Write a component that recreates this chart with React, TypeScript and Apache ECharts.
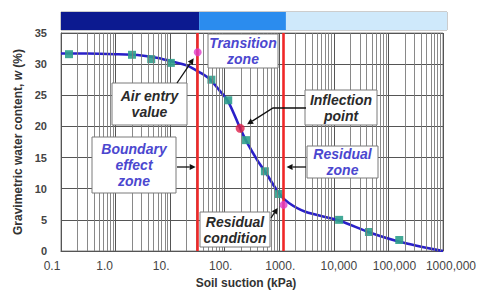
import React, { useEffect, useRef } from "react";
import * as echarts from "echarts";

// ---- axis ticks ----
const xTickValues = [0.1, 1, 10, 100, 1000, 10000, 100000, 1000000];
const xTickLabels = ["0.1", "1.0", "10.", "100.", "1000.", "10,000", "100,000", "1000,000"];
const minorMultipliers = [2, 3, 4, 5, 6, 7, 8, 9];

// ---- soil-water characteristic curve (best fit) ----
const curveSuction = [0.1, 0.3, 1, 3, 6, 10, 20, 30, 50, 80, 116, 192, 250, 400, 545, 1000, 1500, 3000, 12500, 44000, 158000, 1000000];
const curveWater = [31.7, 31.7, 31.6, 31.4, 31.0, 30.5, 29.8, 29.0, 27.8, 25.8, 24.0, 19.7, 17.6, 14.5, 12.8, 9.2, 7.7, 6.3, 4.9, 3.0, 1.5, 0];

// ---- measured points ----
const measSuction = [0.14, 2.0, 4.5, 10.3, 57, 116, 246, 545, 980, 12500, 44000, 158000];
const measWater = [31.6, 31.5, 30.8, 30.2, 27.5, 24.2, 17.8, 12.8, 9.15, 5.0, 3.05, 1.77];

// ---- key points ----
const airEntry = [32, 31.9];
const inflection = [192, 19.7];
const residual = [1200, 7.4];

// ---- zones ----
const zoneBounds = [0.1, 32, 1200, 1000000];
const zoneColors = ["#0c1a90", "#2b8cee", "#cfe9fb"];

const FONT = "'Liberation Sans', Arial, sans-serif";
const BLUE_TXT = "#4b47cf";
const DARK_TXT = "#2a2a2a";

function fmtX(v: number) {
  const i = xTickValues.findIndex((t) => Math.abs(Math.log10(t) - Math.log10(v)) < 1e-6);
  return i >= 0 ? `{s${i}|${xTickLabels[i]}}` : "";
}
const labelNudge = [-9, -11, -9, -4, 1, 5, 6, 8];
const richX: Record<string, any> = {};
labelNudge.forEach((n, i) => {
  richX["s" + i] = {
    fontSize: 12,
    color: "#444",
    fontFamily: FONT,
    padding: n < 0 ? [0, -2 * n, 0, 0] : [0, 0, 0, 2 * n],
  };
});

function arrowEls(pts: number[][], color = "#111") {
  const n = pts.length;
  const E = pts[n - 1];
  const P = pts[n - 2];
  const dx = E[0] - P[0];
  const dy = E[1] - P[1];
  const len = Math.hypot(dx, dy) || 1;
  const ux = dx / len;
  const uy = dy / len;
  const L = 6;
  const W = 3;
  const bx = E[0] - ux * L;
  const by = E[1] - uy * L;
  const shaft = pts.slice(0, n - 1).concat([[bx, by]]);
  return [
    { type: "polyline", z: 50, shape: { points: shaft }, style: { stroke: color, lineWidth: 1.3, fill: null } },
    {
      type: "polygon",
      z: 50,
      shape: { points: [E, [bx - uy * W, by + ux * W], [bx + uy * W, by - ux * W]] },
      style: { fill: color },
    },
  ];
}

function box(x: number, y: number, w: number, h: number, text: string, color: string) {
  return [
    { type: "rect", z: 40, shape: { x, y, width: w, height: h }, style: { fill: "#ffffff", stroke: "#7a7a7a", lineWidth: 1 } },
    {
      type: "text",
      z: 41,
      x: x + w / 2,
      y: y + h / 2,
      style: {
        text,
        align: "center",
        verticalAlign: "middle",
        fontSize: 14,
        fontWeight: "bold",
        fontStyle: "italic",
        fontFamily: FONT,
        lineHeight: 16,
        fill: color,
      },
    },
  ];
}

export default function App() {
  const ref = useRef<HTMLDivElement>(null);
  useEffect(() => {
    const chart = echarts.init(ref.current!, null, { renderer: "svg" });
    const minorValues: number[] = [];
    xTickValues.slice(0, -1).forEach((d) => minorMultipliers.forEach((m) => minorValues.push(d * m)));

    const option: any = {
      animation: false,
      grid: [
        { left: 61, top: 33, width: 386, height: 218, show: true, borderColor: "#8a8a8a", borderWidth: 1, backgroundColor: "#fff" },
        { left: 61, top: 12, width: 386, height: 18, show: true, borderColor: "#9a9a9a", borderWidth: 1 },
      ],
      xAxis: [
        {
          type: "log",
          logBase: 10,
          min: 0.1,
          max: 1000000,
          gridIndex: 0,
          name: "Soil suction (kPa)",
          nameLocation: "middle",
          nameGap: 25,
          nameTextStyle: { fontSize: 12, fontWeight: "bold", color: "#333", fontFamily: FONT, padding: [0, 12, 0, 0] },
          axisLine: { show: true, lineStyle: { color: "#555", width: 1 } },
          axisTick: { show: false },
          minorTick: { show: false },
          axisLabel: { formatter: fmtX, rich: richX, margin: 9, showMaxLabel: true, showMinLabel: true },
          splitLine: { show: true, lineStyle: { color: "#555", width: 1 } },
        },
        { type: "log", logBase: 10, min: 0.1, max: 1000000, gridIndex: 1, show: false },
      ],
      yAxis: [
        {
          type: "value",
          min: 0,
          max: 35,
          interval: 5,
          gridIndex: 0,
          name: "Gravimetric water content, {i|w} (%)",
          nameLocation: "middle",
          nameGap: 32,
          nameTextStyle: {
            fontSize: 12,
            fontWeight: "bold",
            color: "#333",
            fontFamily: FONT,
            rich: { i: { fontSize: 12, fontWeight: "bold", fontStyle: "italic", color: "#333", fontFamily: FONT } },
          },
          axisLine: { show: true, lineStyle: { color: "#555" } },
          axisTick: { show: false },
          axisLabel: { fontSize: 11, fontWeight: "bold", color: "#444", fontFamily: FONT, margin: 14 },
          splitLine: { show: true, lineStyle: { color: "#555", width: 1 } },
        },
        { type: "value", min: 0, max: 1, gridIndex: 1, show: false },
      ],
      series: [
        {
          type: "line",
          name: "minor",
          xAxisIndex: 0,
          yAxisIndex: 0,
          data: [],
          silent: true,
          z: 1,
          markLine: {
            silent: true,
            symbol: "none",
            animation: false,
            label: { show: false },
            lineStyle: { color: "#7c7c7c", width: 0.9, type: "solid" },
            data: minorValues.map((v) => ({ xAxis: v })),
          },
        },
        {
          type: "line",
          name: "limits",
          xAxisIndex: 0,
          yAxisIndex: 0,
          data: [],
          silent: true,
          z: 2,
          markLine: {
            silent: true,
            symbol: "none",
            animation: false,
            label: { show: false },
            lineStyle: { color: "#f02828", width: 2.6, type: "solid" },
            data: [{ xAxis: airEntry[0] }, { xAxis: residual[0] }],
          },
        },
        {
          type: "line",
          name: "fit",
          xAxisIndex: 0,
          yAxisIndex: 0,
          data: curveSuction.map((s, i) => [s, curveWater[i]]),
          smooth: 0.3,
          symbol: "none",
          z: 3,
          lineStyle: { color: "#2a20c8", width: 2.6 },
        },
        {
          type: "scatter",
          name: "measured",
          xAxisIndex: 0,
          yAxisIndex: 0,
          data: measSuction.map((s, i) => [s, measWater[i]]),
          symbol: "rect",
          symbolSize: 8,
          z: 4,
          itemStyle: { color: "#2fa08c", opacity: 0.9 },
        },
        {
          type: "scatter",
          name: "inflection",
          xAxisIndex: 0,
          yAxisIndex: 0,
          data: [inflection],
          symbol: "circle",
          symbolSize: 9,
          z: 5,
          itemStyle: { color: "#de1f48" },
        },
        {
          type: "scatter",
          name: "keypoints",
          xAxisIndex: 0,
          yAxisIndex: 0,
          data: [airEntry, residual],
          symbol: "circle",
          symbolSize: 8,
          z: 5,
          itemStyle: { color: "#e03cc8" },
        },
        {
          type: "line",
          name: "zones",
          xAxisIndex: 1,
          yAxisIndex: 1,
          data: [],
          silent: true,
          markArea: {
            silent: true,
            animation: false,
            data: zoneColors.map((c, i) => [
              { xAxis: zoneBounds[i], itemStyle: { color: c } },
              { xAxis: zoneBounds[i + 1] },
            ]),
          },
        },
      ],
    };
    chart.setOption(option);

    const px = (p: number[]) => chart.convertToPixel({ gridIndex: 0 }, p) as number[];
    const ae = px(airEntry);
    const ip = px(inflection);
    const rp = px(residual);
    const redA = px([airEntry[0], 0])[0];
    const redR = px([residual[0], 0])[0];

    const graphic: any[] = [
      ...box(208, 34, 70, 34, "Transition\nzone", BLUE_TXT),
      ...box(112, 83, 75, 42, "Air entry\nvalue", DARK_TXT),
      ...box(305, 90, 72, 35, "Inflection\npoint", DARK_TXT),
      ...box(92, 137, 84, 56, "Boundary\neffect\nzone", BLUE_TXT),
      ...box(307, 146, 71, 32, "Residual\nzone", BLUE_TXT),
      ...box(200, 212, 70, 35, "Residual\ncondition", DARK_TXT),
      ...arrowEls([[177, 83], [ae[0] - 4, ae[1] + 6]]),
      ...arrowEls([[306, 108], [273, 108], [ip[0] + 7, ip[1] - 4]]),
      ...arrowEls([[177, 167], [redA - 2, 167]]),
      ...arrowEls([[306, 167], [redR + 3, 167]]),
      ...arrowEls([[271, 218], [rp[0] - 6, rp[1] + 3]]),
    ];
    chart.setOption({ graphic });

    return () => chart.dispose();
  }, []);
  return <div ref={ref} style={{ position: "absolute", left: 0, top: 0, width: 479, height: 294 }} />;
}
